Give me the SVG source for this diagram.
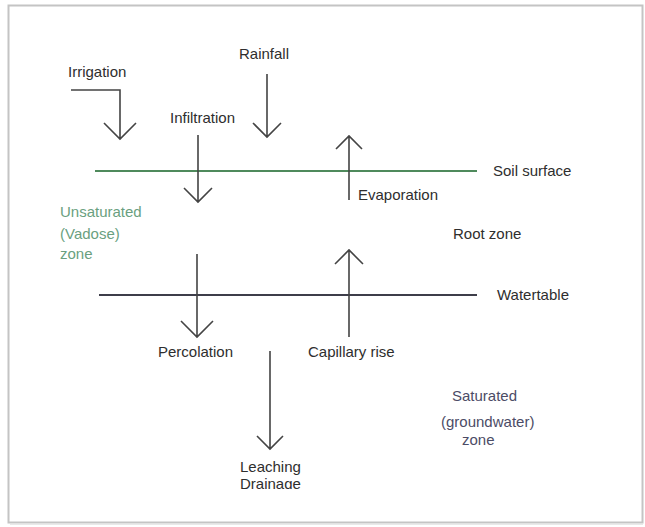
<svg xmlns="http://www.w3.org/2000/svg" width="645" height="527" viewBox="0 0 645 527">
<defs>
<style>
text{font-family:"Liberation Sans",Arial,sans-serif;font-size:15px;fill:#2e2e2e;}
.ar{stroke:#444;stroke-width:1.6;fill:none;}
.unsat{fill:#6a9f80;}
.sat{fill:#4c4c66;}
</style>
<clipPath id="clipDrain"><rect x="200" y="474" width="140" height="15"/></clipPath>
</defs>
<rect x="0" y="0" width="645" height="527" fill="#fff"/>
<rect x="8.5" y="5.5" width="634" height="517" fill="none" stroke="#c4c4c4" stroke-width="2"/>
<line x1="10" y1="524" x2="643" y2="524" stroke="#e2e2e2" stroke-width="1.5"/>

<g id="lines">
<line id="soil-surface" x1="95" y1="171" x2="477" y2="171" stroke="#4f8a5c" stroke-width="2"/>
<line id="watertable" x1="99" y1="295" x2="477" y2="295" stroke="#3e3e4a" stroke-width="2"/>
</g>

<g id="connectors" class="ar">
<path d="M71 90 H120 V139 M104 123 L120 139 L136 123"/>
<path d="M267 74 V137 M253 123 L267 137 L281 123"/>
<path d="M198 135 V202 M184 188 L198 202 L212 188"/>
<path d="M349 200 V136 M336 149 L349 136 L362 149"/>
<path d="M197 254 V337 M181 321 L197 337 L213 321"/>
<path d="M349 337 V250 M335 264 L349 250 L363 264"/>
<path d="M270 351 V449 M257 436 L270 449 L283 436"/>
</g>

<g id="irrigation"><text x="68" y="77">Irrigation</text></g>
<g id="rainfall"><text x="239" y="59">Rainfall</text></g>
<g id="infiltration"><text x="170" y="123">Infiltration</text></g>
<g id="soil-surface-label"><text x="493" y="176">Soil surface</text></g>
<g id="evaporation"><text x="358" y="200">Evaporation</text></g>
<g id="unsaturated-zone">
<text class="unsat" x="60" y="217">Unsaturated</text>
<text class="unsat" x="60" y="239">(Vadose)</text>
<text class="unsat" x="60" y="259">zone</text>
</g>
<g id="root-zone"><text x="453" y="239">Root zone</text></g>
<g id="watertable-label"><text x="497" y="300">Watertable</text></g>
<g id="percolation"><text x="158" y="357">Percolation</text></g>
<g id="capillary-rise"><text x="308" y="357">Capillary rise</text></g>
<g id="saturated-zone">
<text class="sat" x="452" y="401">Saturated</text>
<text class="sat" x="441" y="427">(groundwater)</text>
<text class="sat" x="462" y="445">zone</text>
</g>
<g id="leaching-drainage">
<text x="240" y="472">Leaching</text>
<text x="240" y="489" clip-path="url(#clipDrain)">Drainage</text>
</g>
</svg>
